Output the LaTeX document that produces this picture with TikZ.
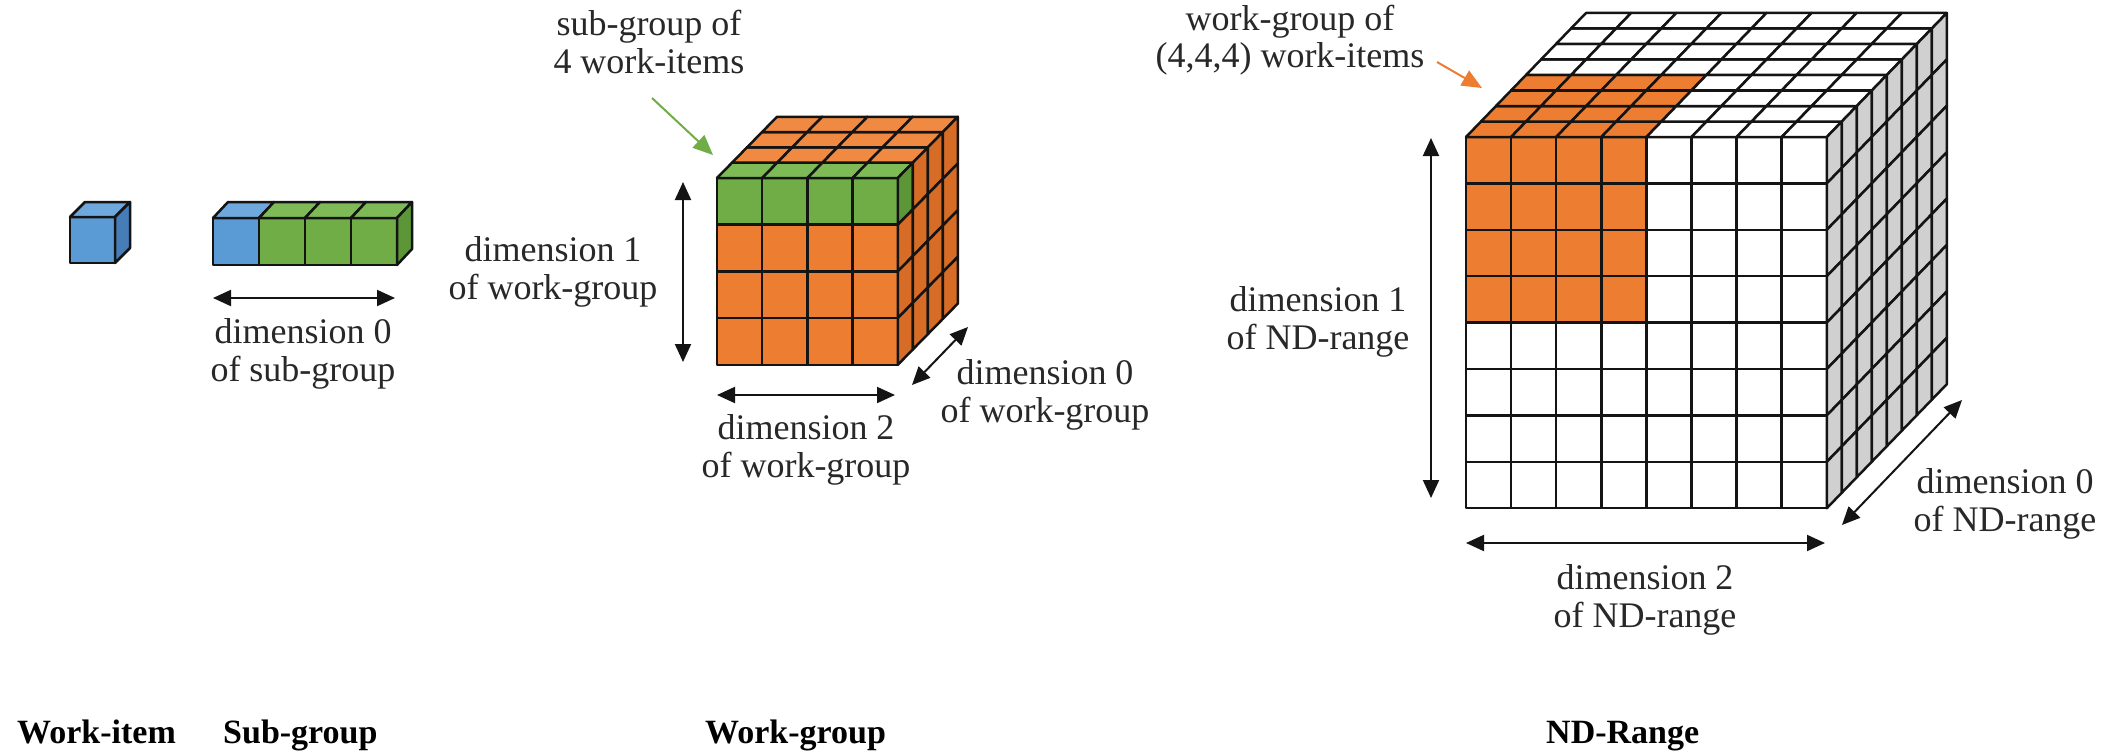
\documentclass[tikz,border=0pt]{standalone}
\usepackage{fontspec}
\setmainfont{Liberation Serif}
\usetikzlibrary{arrows.meta}

\definecolor{wiblue}{RGB}{91,155,213}
\definecolor{wibluetop}{RGB}{111,168,220}
\definecolor{wiblueside}{RGB}{70,125,185}
\definecolor{sggreen}{RGB}{112,173,71}
\definecolor{sggreentop}{RGB}{126,186,86}
\definecolor{sggreenside}{RGB}{92,150,55}
\definecolor{wgorange}{RGB}{237,125,49}
\definecolor{wgorangetop}{RGB}{240,138,66}
\definecolor{wgorangeside}{RGB}{214,108,38}
\definecolor{ndside}{RGB}{208,208,208}
\definecolor{inkline}{RGB}{20,20,20}
\definecolor{labeltext}{RGB}{40,40,40}

% A block of NX x NY x NZ cells: front face, top face, right face.
% Position, sizes and per-cell colours come from \cb... macros and
% the \frontshade, \topshade, \sideshade hooks (which set \cellcol).
\newcommand\drawcuboid{%
  \foreach \i in {1,...,\cbNX} {\foreach \j in {1,...,\cbNY} {%
    \frontshade
    \filldraw[cell, fill=\cellcol] ({\cbX+(\i-1)*\cbW},{\cbY+(\j-1)*\cbH})
      rectangle ++({\cbW},{\cbH});}}
  \foreach \i in {1,...,\cbNX} {\foreach \k in {1,...,\cbNZ} {%
    \topshade
    \filldraw[cell, fill=\cellcol] ({\cbX+(\i-1)*\cbW+(\k-1)*\cbDX},{\cbY+(\k-1)*\cbDY})
      -- ++({\cbW},0) -- ++({\cbDX},{\cbDY}) -- ++({-\cbW},0) -- cycle;}}
  \foreach \j in {1,...,\cbNY} {\foreach \k in {1,...,\cbNZ} {%
    \sideshade
    \filldraw[cell, fill=\cellcol] ({\cbX+\cbNX*\cbW+(\k-1)*\cbDX},{\cbY+(\j-1)*\cbH+(\k-1)*\cbDY})
      -- ++({\cbDX},{\cbDY}) -- ++(0,{\cbH}) -- ++({-\cbDX},{-(\cbDY)}) -- cycle;}}
}

\begin{document}
\begin{tikzpicture}[x=1pt, y=-1pt,
  cell/.style={draw=inkline, line width=2.5pt, line join=round},
  dimarrow/.style={draw=inkline, line width=2pt,
    {Triangle[length=18pt,width=16pt]}-{Triangle[length=18pt,width=16pt]}},
  % two-line labels: placed at the baseline of their second line
  dimlabel/.style={text=labeltext, font=\fontsize{36}{38}\selectfont,
    align=center, anchor=base, inner sep=0pt},
  title/.style={font=\fontsize{34}{36}\selectfont\bfseries, text=black,
    anchor=base west, inner sep=0pt},
  pointer/.style={line width=2pt, -{Triangle[length=20pt,width=17pt]}}]

\useasboundingbox[fill=white] (0,0) rectangle (2113,752);

% ---------- work-item ----------
\def\cbX{70}\def\cbY{217}\def\cbW{45}\def\cbH{46}
\def\cbDX{15}\def\cbDY{-15}
\def\cbNX{1}\def\cbNY{1}\def\cbNZ{1}
\def\frontshade{\def\cellcol{wiblue}}
\def\topshade{\def\cellcol{wibluetop}}
\def\sideshade{\def\cellcol{wiblueside}}
\drawcuboid

% ---------- sub-group ----------
\def\cbX{213}\def\cbY{218}\def\cbW{46}\def\cbH{47}
\def\cbDX{15}\def\cbDY{-16}
\def\cbNX{4}\def\cbNY{1}\def\cbNZ{1}
\def\frontshade{\ifnum\i=1 \def\cellcol{wiblue}\else\def\cellcol{sggreen}\fi}
\def\topshade{\ifnum\i=1 \def\cellcol{wibluetop}\else\def\cellcol{sggreentop}\fi}
\def\sideshade{\def\cellcol{sggreenside}}
\drawcuboid

\coordinate (sgL) at (213,298);
\coordinate (sgR) at (395,298);
\draw[dimarrow] (sgL) -- (sgR);
\node[dimlabel] (sgdim0) at (303,381) {dimension 0\\of sub-group};

% ---------- work-group ----------
\def\cbX{717}\def\cbY{178}\def\cbW{45.2}\def\cbH{46.7}
\def\cbDX{15}\def\cbDY{-15.3}
\def\cbNX{4}\def\cbNY{4}\def\cbNZ{4}
\def\frontshade{\ifnum\j=1 \def\cellcol{sggreen}\else\def\cellcol{wgorange}\fi}
\def\topshade{\ifnum\k=1 \def\cellcol{sggreentop}\else\def\cellcol{wgorangetop}\fi}
\def\sideshade{\def\cellcol{wgorangeside}%
  \ifnum\j=1 \ifnum\k=1 \def\cellcol{sggreenside}\fi\fi}
\drawcuboid

\coordinate (wgT) at (683,182);
\coordinate (wgB) at (683,362);
\draw[dimarrow] (wgT) -- (wgB);
\node[dimlabel] (wgdim1) at (553,299) {dimension 1\\of work-group};

\coordinate (wgL) at (717,395);
\coordinate (wgR) at (895,395);
\draw[dimarrow] (wgL) -- (wgR);
\node[dimlabel] (wgdim2) at (806,477) {dimension 2\\of work-group};

\coordinate (wgNear) at (912,385);
\coordinate (wgFar) at (968,327);
\draw[dimarrow] (wgNear) -- (wgFar);
\node[dimlabel] (wgdim0) at (1045,422) {dimension 0\\of work-group};

\node[dimlabel] (sgnote) at (649,74) {sub-group of\\4 work-items};
\coordinate (sgtail) at (652,98);
\coordinate (sghead) at (713,155);
\draw[pointer, draw=sggreen, fill=sggreen] (sgtail) -- (sghead);

% ---------- ND-range ----------
\def\cbX{1466}\def\cbY{137}\def\cbW{45.1}\def\cbH{46.4}
\def\cbDX{15}\def\cbDY{-15.5}
\def\cbNX{8}\def\cbNY{8}\def\cbNZ{8}
\def\frontshade{\def\cellcol{white}%
  \ifnum\i<5 \ifnum\j<5 \def\cellcol{wgorange}\fi\fi}
\def\topshade{\def\cellcol{white}%
  \ifnum\i<5 \ifnum\k<5 \def\cellcol{wgorange}\fi\fi}
\def\sideshade{\def\cellcol{ndside}}
\drawcuboid

\coordinate (ndT) at (1431,138);
\coordinate (ndB) at (1431,498);
\draw[dimarrow] (ndT) -- (ndB);
\node[dimlabel] (nddim1) at (1318,349) {dimension 1\\of ND-range};

\coordinate (ndL) at (1466,543);
\coordinate (ndR) at (1825,543);
\draw[dimarrow] (ndL) -- (ndR);
\node[dimlabel] (nddim2) at (1645,627) {dimension 2\\of ND-range};

\coordinate (ndNear) at (1842,525);
\coordinate (ndFar) at (1962,400);
\draw[dimarrow] (ndNear) -- (ndFar);
\node[dimlabel] (nddim0) at (2005,531) {dimension 0\\of ND-range};

\node[dimlabel] (wgnote) at (1290,68) {work-group of\\(4,4,4) work-items};
\coordinate (wgtail) at (1437,62);
\coordinate (wghead) at (1482,88);
\draw[pointer, draw=wgorange, fill=wgorange] (wgtail) -- (wghead);

% ---------- titles ----------
\node[title] (tWI) at (17,743) {Work-item};
\node[title] (tSG) at (223,743) {Sub-group};
\node[title] (tWG) at (705,743) {Work-group};
\node[title] (tND) at (1546,743) {ND-Range};

\end{tikzpicture}
\end{document}
